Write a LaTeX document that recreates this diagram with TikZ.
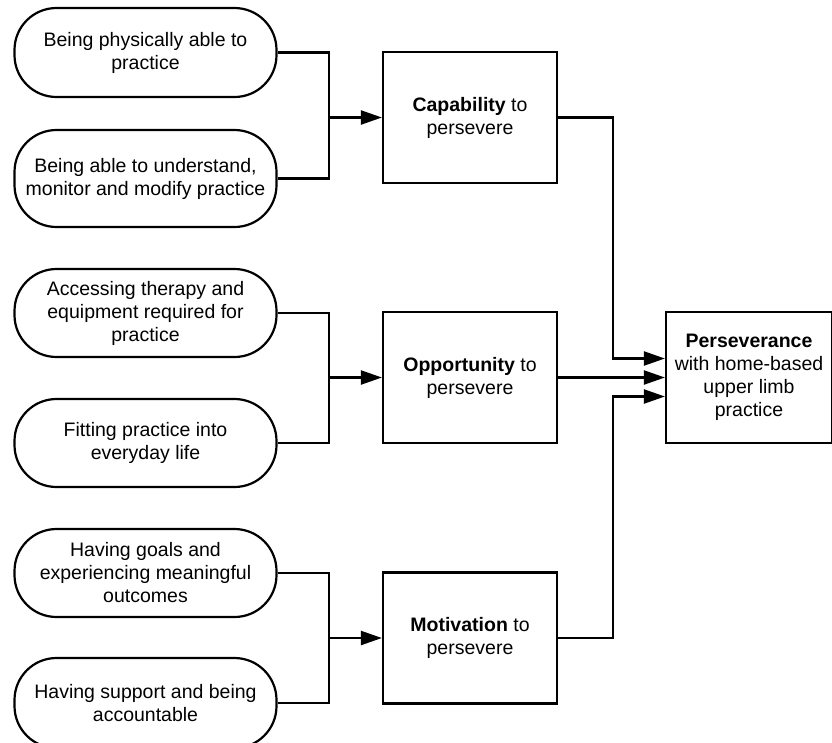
\documentclass[tikz,border=0pt]{standalone}
\usepackage{fontspec}
\setmainfont{Liberation Sans}
\usepackage{tikz}
\usetikzlibrary{arrows.meta,calc,positioning}

\tikzset{
  pill/.style={draw,line width=2.2pt,rounded corners=42pt,minimum width=262pt,
    minimum height=89pt,align=center,inner sep=2pt},
  factor/.style={draw,line width=2.2pt,minimum width=174pt,minimum height=131pt,
    align=center},
  link/.style={line width=2.2pt},
  arr/.style={line width=2.2pt,-{Triangle[length=21pt,width=14pt]}}
}

\begin{document}
\begin{tikzpicture}[x=1pt,y=-1pt,font=\fontsize{19.5}{23}\selectfont]
\clip (0,0) rectangle (832,742);
% sub-themes
\node[pill] (s1) at (145.5,52.5) {Being physically able to\\practice};
\node[pill,minimum height=97pt] (s2) at (145.5,178.5) {Being able to understand,\\monitor and modify practice};
\node[pill,minimum height=88pt] (s3) at (145.5,313) {Accessing therapy and\\equipment required for\\practice};
\node[pill,minimum height=88pt] (s4) at (145.5,443) {Fitting practice into\\everyday life};
\node[pill,minimum height=88pt] (s5) at (145.5,573) {Having goals and\\experiencing meaningful\\outcomes};
\node[pill,minimum height=90pt] (s6) at (145.5,703) {Having support and being\\accountable};
% themes
\node[factor] (cap) at (470,117.5) {\textbf{Capability} to\\persevere};
\node[factor] (opp) at (470,377.5) {\textbf{Opportunity} to\\persevere};
\node[factor] (mot) at (470,638) {\textbf{Motivation} to\\persevere};
\node[factor,minimum width=166pt] (pers) at (749,377.5) {\textbf{Perseverance}\\with home-based\\upper limb\\practice};
% joins
\coordinate[left=53pt of cap.west] (j1);
\coordinate[left=53pt of opp.west] (j2);
\coordinate[left=53pt of mot.west] (j3);
\draw[link] (s1.east) -| (j1) |- (s2.east);
\draw[link] (s3.east) -| (j2) |- (s4.east);
\draw[link] (s5.east) -| (j3) |- (s6.east);
\draw[arr] (j1) -- (cap.west);
\draw[arr] (j2) -- (opp.west);
\draw[arr] (j3) -- (mot.west);
% into perseverance
\draw[arr] (cap.east) -- ++(55,0) |- ([yshift=19pt]pers.west);
\draw[arr] (opp.east) -- (pers.west);
\draw[arr] (mot.east) -- ++(55,0) |- ([yshift=-19pt]pers.west);
\end{tikzpicture}
\end{document}
